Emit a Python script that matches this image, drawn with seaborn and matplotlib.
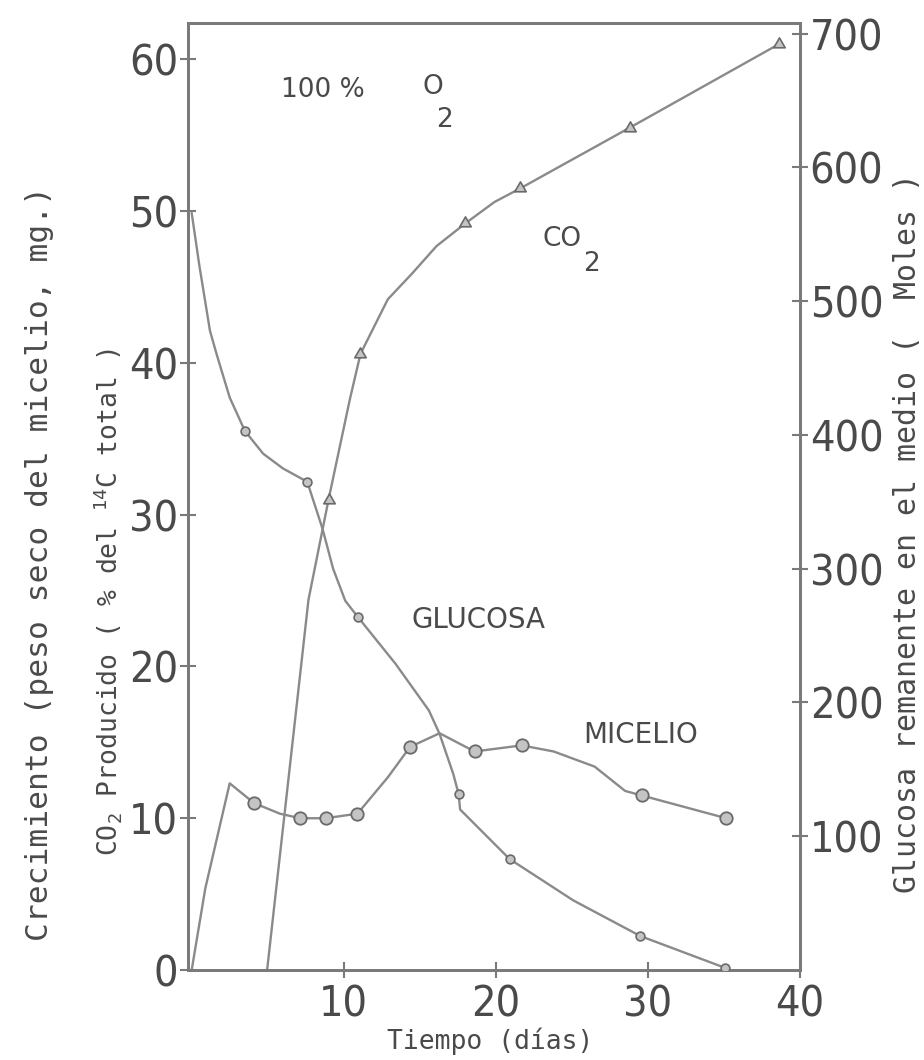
import matplotlib
matplotlib.use("Agg")
import matplotlib.pyplot as plt
from matplotlib import font_manager
import pandas as pd
import seaborn as sns

# ---------------- data ----------------
# CO2 produced (% of total 14C), left axis
co2_days = [4.96, 7.68, 9.0, 10.4, 11.1, 12.9, 14.5, 16.1, 18.0, 19.9, 21.6, 28.8, 38.6]
co2_vals = [0.0, 24.4, 31.0, 37.6, 40.6, 44.2, 45.9, 47.7, 49.2, 50.6, 51.5, 55.5, 61.0]
co2_mark_days = [9.0, 11.1, 18.0, 21.6, 28.8, 38.6]
co2_mark_vals = [31.0, 40.6, 49.2, 51.5, 55.5, 61.0]

# Glucose remaining in medium (moles), right axis
glu_days = [0.0, 0.5, 1.2, 1.65, 2.5, 3.5, 4.7, 6.0, 7.6, 8.6, 9.3, 10.1, 10.95,
            13.4, 15.6, 16.3, 17.2, 17.55, 17.65, 20.9, 25.1, 29.5, 35.1]
glu_vals = [566, 527, 478, 460, 428, 403, 386, 375, 365, 330, 300, 276, 263.6,
            229, 194, 176.5, 146.6, 131.7, 120, 83, 52, 25.4, 1.5]
glu_mark_days = [3.5, 7.6, 10.95, 17.55, 20.9, 29.5, 35.1]
glu_mark_vals = [403, 365, 263.6, 131.7, 83, 25.4, 1.5]

# Mycelium dry weight (mg), left axis
mic_days = [0.0, 0.9, 2.5, 4.1, 5.8, 7.14, 8.8, 10.9, 12.9, 14.36, 16.3, 18.6,
            21.7, 23.8, 26.5, 28.5, 29.6, 35.15]
mic_vals = [0.0, 5.4, 12.3, 11.0, 10.3, 10.0, 10.0, 10.3, 12.7, 14.7, 15.6, 14.4,
            14.8, 14.4, 13.4, 11.8, 11.5, 10.0]
mic_mark_days = [4.1, 7.14, 8.8, 10.9, 14.36, 18.6, 21.7, 29.6, 35.15]
mic_mark_vals = [11.0, 10.0, 10.0, 10.3, 14.7, 14.4, 14.8, 11.5, 10.0]

x_ticks = [10, 20, 30, 40]
left_ticks = [0, 10, 20, 30, 40, 50, 60]
right_ticks = [100, 200, 300, 400, 500, 600, 700]

# ---------------- style ----------------
sns.set_theme(style="white")
plt.rcParams["font.family"] = ["DejaVu Sans"]
plt.rcParams["mathtext.fontset"] = "custom"
plt.rcParams["mathtext.rm"] = "DejaVu Sans Mono"
plt.rcParams["mathtext.it"] = "DejaVu Sans Mono"

names = {f.name for f in font_manager.fontManager.ttflist}
if "Liberation Sans Narrow" in names:
    TICKFONT = dict(family="Liberation Sans Narrow")
else:
    TICKFONT = dict(family="DejaVu Sans", stretch="condensed")

LINE = "#8a8a8a"
EDGE = "#6a6a6a"
FILL = "#c4c4c4"
TXT = "#4a4a4a"
SPINE = "#7a7a7a"
TICKSIZE = 31

fig = plt.figure(figsize=(9.24, 10.6), dpi=100)
ax = fig.add_axes([0.2035, 0.0849, 0.6623, 0.8934])
ax2 = ax.twinx()

# ---------------- lines ----------------
co2_df = pd.DataFrame({"dia": co2_days, "v": co2_vals})
mic_df = pd.DataFrame({"dia": mic_days, "v": mic_vals})
glu_df = pd.DataFrame({"dia": glu_days, "v": glu_vals})

sns.lineplot(data=co2_df, x="dia", y="v", ax=ax, color=LINE, lw=1.7,
             estimator=None, sort=False)
sns.lineplot(data=mic_df, x="dia", y="v", ax=ax, color=LINE, lw=1.7,
             estimator=None, sort=False)
sns.lineplot(data=glu_df, x="dia", y="v", ax=ax2, color=LINE, lw=1.7,
             estimator=None, sort=False)

sns.scatterplot(x=co2_mark_days, y=co2_mark_vals, ax=ax, marker=(3, 0, 120),
                s=90, color=FILL, edgecolor=EDGE, linewidth=1.2, zorder=5)
sns.scatterplot(x=mic_mark_days, y=mic_mark_vals, ax=ax, marker="o",
                s=80, color=FILL, edgecolor=EDGE, linewidth=1.3, zorder=5)
sns.scatterplot(x=glu_mark_days, y=glu_mark_vals, ax=ax2, marker="o",
                s=40, color=FILL, edgecolor=EDGE, linewidth=1.2, zorder=5)

# ---------------- axes ----------------
ax.set_xlim(-0.24, 40)
ax.set_ylim(0, 62.4)
ax2.set_ylim(0, 708)

ax.set_xticks(x_ticks)
ax.set_yticks(left_ticks)
ax2.set_yticks(right_ticks)
ax.set_xticklabels([str(t) for t in x_ticks], fontsize=TICKSIZE, color=TXT, **TICKFONT)
ax.set_yticklabels([str(t) for t in left_ticks], fontsize=TICKSIZE, color=TXT, **TICKFONT)
ax2.set_yticklabels([str(t) for t in right_ticks], fontsize=TICKSIZE, color=TXT, **TICKFONT)

ax.tick_params(axis="both", direction="inout", length=12, width=1.5,
               color=SPINE, left=True, bottom=True)
ax.tick_params(axis="y", pad=1)
ax.tick_params(axis="x", pad=4)
ax2.tick_params(axis="y", direction="inout", length=12, width=1.5,
                color=SPINE, right=True, pad=1)

for a in (ax, ax2):
    for s in a.spines.values():
        s.set_visible(True)
        s.set_color(SPINE)
        s.set_linewidth(2.0)

ax.set_xlabel("")
ax.set_ylabel("")
ax2.set_ylabel("")

# ---------------- texts ----------------
fig.text(0.531, 0.018, "Tiempo (días)", ha="center", va="center",
         fontsize=19, color=TXT, family="DejaVu Sans Mono")
fig.text(0.043, 0.468, "Crecimiento (peso seco del micelio, mg.)", rotation=90,
         ha="center", va="center", fontsize=22.5, color=TXT, family="DejaVu Sans Mono")
fig.text(0.116, 0.432, r"CO$_2$ Producido ( % del $^{14}$C total )", rotation=90,
         ha="center", va="center", fontsize=19, color=TXT, family="DejaVu Sans Mono")
fig.text(0.982, 0.497, "Glucosa remanente en el medio (  Moles )", rotation=90,
         ha="center", va="center", fontsize=21.5, color=TXT, family="DejaVu Sans Mono")

ax.text(5.9, 58.0, "100 %", ha="left", va="center", fontsize=19, color=TXT)
ax.text(15.85, 58.2, "O", ha="center", va="center", fontsize=19, color=TXT)
ax.text(16.6, 56.0, "2", ha="center", va="center", fontsize=19, color=TXT)
ax.text(23.07, 48.2, "CO", ha="left", va="center", fontsize=19, color=TXT)
ax.text(26.3, 46.5, "2", ha="center", va="center", fontsize=19, color=TXT)
ax.text(18.85, 23.07, "GLUCOSA", ha="center", va="center", fontsize=20, color=TXT)
ax.text(29.54, 15.5, "MICELIO", ha="center", va="center", fontsize=20, color=TXT)

fig.savefig("out.png", dpi=100)
